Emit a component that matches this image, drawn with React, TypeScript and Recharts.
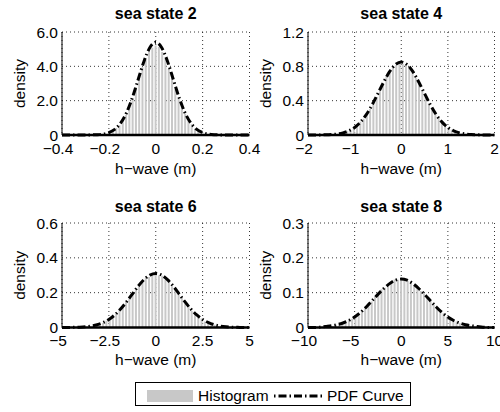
import React from 'react';
import { ComposedChart, Bar, Line, XAxis, YAxis, CartesianGrid } from 'recharts';

const FONT = '"Liberation Sans", Arial, Helvetica, sans-serif';
const FS = 15.5;
const HIST_FILL = '#c8c8c8';

// sea state 2
const ss2HistStart = -0.196;
const ss2HistStep = 0.014;
const ss2Hist = [0.12, 0.22, 0.41, 0.57, 0.9, 1.18, 1.7, 2.12, 2.78, 3.27, 3.95, 4.38, 4.9, 5.08, 5.22,
  5.13, 4.83, 4.45, 3.84, 3.35, 2.66, 2.19, 1.61, 1.25, 0.84, 0.62, 0.37, 0.27, 0.13];
const ss2Pdf = [0, 0, 0, 0, 0.001, 0.005, 0.018, 0.054, 0.14, 0.33, 0.692, 1.29, 2.17, 3.23, 4.3, 5.1, 5.4,
  5.1, 4.3, 3.23, 2.17, 1.29, 0.692, 0.33, 0.14, 0.054, 0.018, 0.005, 0.001, 0, 0, 0, 0];
const ss2XDomain = [-0.4, 0.4];
const ss2XTicks = [-0.4, -0.2, 0, 0.2, 0.4];
const ss2XLabels = ['−0.4', '−0.2', '0', '0.2', '0.4'];
const ss2YTicks = [0, 2, 4, 6];
const ss2YLabels = ['0', '2.0', '4.0', '6.0'];

// sea state 4
const ss4HistStart = -1.225;
const ss4HistStep = 0.07;
const ss4Hist = [0.022, 0.045, 0.052, 0.086, 0.107, 0.153, 0.188, 0.252, 0.303, 0.384, 0.444, 0.533, 0.594,
  0.678, 0.726, 0.792, 0.812, 0.845, 0.831, 0.826, 0.776, 0.741, 0.664, 0.609, 0.519, 0.457, 0.37, 0.315,
  0.241, 0.199, 0.143, 0.115, 0.078, 0.061, 0.038, 0.03, 0.017];
const ss4Pdf = [0, 0, 0.001, 0.002, 0.005, 0.012, 0.025, 0.048, 0.088, 0.15, 0.238, 0.351, 0.483, 0.618, 0.738,
  0.82, 0.85, 0.82, 0.738, 0.618, 0.483, 0.351, 0.238, 0.15, 0.088, 0.048, 0.025, 0.012, 0.005, 0.002, 0.001, 0, 0];
const ss4XDomain = [-2, 2];
const ss4XTicks = [-2, -1, 0, 1, 2];
const ss4XLabels = ['−2', '−1', '0', '1', '2'];
const ss4YTicks = [0, 0.4, 0.8, 1.2];
const ss4YLabels = ['0', '0.4', '0.8', '1.2'];

// sea state 6
const ss6HistStart = -3.5;
const ss6HistStep = 0.175;
const ss6Hist = [0.006, 0.011, 0.014, 0.022, 0.026, 0.039, 0.047, 0.066, 0.077, 0.101, 0.117, 0.146, 0.165,
  0.197, 0.214, 0.245, 0.259, 0.284, 0.29, 0.305, 0.301, 0.298, 0.297, 0.276, 0.267, 0.237, 0.221, 0.189,
  0.171, 0.139, 0.123, 0.095, 0.081, 0.06, 0.051, 0.035, 0.029, 0.019, 0.016, 0.009, 0.008];
const ss6Pdf = [0, 0, 0.001, 0.002, 0.004, 0.008, 0.016, 0.028, 0.046, 0.072, 0.106, 0.147, 0.192, 0.237, 0.275,
  0.301, 0.31, 0.301, 0.275, 0.237, 0.192, 0.147, 0.106, 0.072, 0.046, 0.028, 0.016, 0.008, 0.004, 0.002, 0.001, 0, 0];
const ss6XDomain = [-5, 5];
const ss6XTicks = [-5, -2.5, 0, 2.5, 5];
const ss6XLabels = ['−5', '−2.5', '0', '2.5', '5'];
const ss6YTicks = [0, 0.2, 0.4, 0.6];
const ss6YLabels = ['0', '0.2', '0.4', '0.6'];

// sea state 8
const ss8HistStart = -7.35;
const ss8HistStep = 0.35;
const ss8Hist = [0.004, 0.008, 0.009, 0.014, 0.015, 0.022, 0.025, 0.035, 0.038, 0.05, 0.055, 0.069, 0.075,
  0.09, 0.095, 0.11, 0.114, 0.127, 0.129, 0.138, 0.137, 0.143, 0.141, 0.134, 0.133, 0.121, 0.118, 0.105,
  0.099, 0.085, 0.079, 0.065, 0.059, 0.046, 0.041, 0.031, 0.027, 0.02, 0.017, 0.012, 0.011, 0.006, 0.005];
const ss8Pdf = [0, 0, 0.001, 0.003, 0.005, 0.008, 0.013, 0.02, 0.03, 0.043, 0.059, 0.077, 0.095, 0.112, 0.126,
  0.136, 0.139, 0.136, 0.126, 0.112, 0.095, 0.077, 0.059, 0.043, 0.03, 0.02, 0.013, 0.008, 0.005, 0.003, 0.001, 0, 0];
const ss8XDomain = [-10, 10];
const ss8XTicks = [-10, -5, 0, 5, 10];
const ss8XLabels = ['−10', '−5', '0', '5', '10'];
const ss8YTicks = [0, 0.1, 0.2, 0.3];
const ss8YLabels = ['0', '0.1', '0.2', '0.3'];

const histRows = (start: number, step: number, values: number[]) =>
  values.map((h, i) => ({ x: start + i * step, h }));

const pdfRows = (domain: number[], values: number[]) => {
  const d = (domain[1] - domain[0]) / (values.length - 1);
  return values.map((p, i) => ({ x: domain[0] + i * d, p }));
};

const tickStyle = { fill: '#000', fontSize: FS, fontFamily: FONT };

interface PanelProps {
  left: number;
  top: number;
  width: number;
  axisW: number;
  plotW: number;
  plotH: number;
  hist: { x: number; h: number }[];
  pdf: { x: number; p: number }[];
  xDomain: number[];
  xTicks: number[];
  xLabels: string[];
  yTicks: number[];
  yLabels: string[];
}

const Panel: React.FC<PanelProps> = ({ left, top, width, axisW, plotW, plotH, hist, pdf, xDomain, xTicks, xLabels, yTicks, yLabels }) => {
  // matlab-ish: negative labels sit a bit left of their tick
  const renderXTick = (props: any) => {
    const v = props.payload.value;
    return (
      <text x={props.x + (v < 0 ? -4 : 0)} y={props.y} dy="0.71em" textAnchor="middle" fill="#000" fontSize={FS} fontFamily={FONT}>
        {xLabels[xTicks.indexOf(v)] ?? ''}
      </text>
    );
  };

  return (
    <div style={{ position: 'absolute', left, top }}>
      <ComposedChart
        width={width}
        height={32 + plotH + 30}
        data={hist}
        margin={{ top: 32, right: width - axisW - plotW, bottom: 0, left: 0 }}
        barCategoryGap="15%"
      >
        <CartesianGrid stroke="#000" strokeDasharray="1 3" strokeWidth={0.8} />
        <XAxis
          dataKey="x"
          type="number"
          domain={xDomain}
          ticks={xTicks}
          interval={0}
          allowDataOverflow
          height={30}
          tick={renderXTick}
          tickLine={false}
          tickSize={6}
          tickMargin={1.5}
          axisLine={{ stroke: '#000', strokeWidth: 2.5 }}
        />
        <XAxis xAxisId="pdf" dataKey="x" type="number" domain={xDomain} allowDataOverflow hide />
        <YAxis
          type="number"
          domain={[yTicks[0], yTicks[yTicks.length - 1]]}
          ticks={yTicks}
          interval={0}
          width={axisW}
          tick={tickStyle}
          tickLine={false}
          tickSize={4}
          tickMargin={0}
          axisLine={{ stroke: '#000' }}
          tickFormatter={(v: number) => yLabels[yTicks.indexOf(v)] ?? ''}
        />
        <Bar dataKey="h" fill={HIST_FILL} isAnimationActive={false} />
        <Line
          data={pdf}
          xAxisId="pdf"
          dataKey="p"
          type="monotone"
          stroke="#000"
          strokeWidth={3}
          strokeDasharray="8 3 1.5 3"
          dot={false}
          isAnimationActive={false}
        />
      </ComposedChart>
    </div>
  );
};

const titles = [
  { text: 'sea state 2', x: 155.75, y: 19.3 },
  { text: 'sea state 4', x: 401.25, y: 19.3 },
  { text: 'sea state 6', x: 155.75, y: 211.5 },
  { text: 'sea state 8', x: 401.25, y: 211.5 },
];
const xLabelPos = [
  { x: 155.75, y: 174 },
  { x: 401.25, y: 174 },
  { x: 155.75, y: 364.6 },
  { x: 401.25, y: 364.6 },
];
const yLabelPos = [
  { x: 24.6, y: 83.5 },
  { x: 271, y: 83.5 },
  { x: 24.6, y: 275.3 },
  { x: 271, y: 275.3 },
];

export default function App() {
  return (
    <div style={{ position: 'absolute', left: 0, top: 0, width: 500, height: 412, overflow: 'hidden', background: '#fff' }}>
      <Panel left={0} top={0} width={262} axisW={62} plotW={187.5} plotH={103}
        hist={histRows(ss2HistStart, ss2HistStep, ss2Hist)} pdf={pdfRows(ss2XDomain, ss2Pdf)}
        xDomain={ss2XDomain} xTicks={ss2XTicks} xLabels={ss2XLabels} yTicks={ss2YTicks} yLabels={ss2YLabels} />
      <Panel left={250} top={0} width={250} axisW={58} plotW={186.5} plotH={103}
        hist={histRows(ss4HistStart, ss4HistStep, ss4Hist)} pdf={pdfRows(ss4XDomain, ss4Pdf)}
        xDomain={ss4XDomain} xTicks={ss4XTicks} xLabels={ss4XLabels} yTicks={ss4YTicks} yLabels={ss4YLabels} />
      <Panel left={0} top={191} width={262} axisW={62} plotW={187.5} plotH={104.5}
        hist={histRows(ss6HistStart, ss6HistStep, ss6Hist)} pdf={pdfRows(ss6XDomain, ss6Pdf)}
        xDomain={ss6XDomain} xTicks={ss6XTicks} xLabels={ss6XLabels} yTicks={ss6YTicks} yLabels={ss6YLabels} />
      <Panel left={250} top={191} width={250} axisW={58} plotW={186.5} plotH={104.5}
        hist={histRows(ss8HistStart, ss8HistStep, ss8Hist)} pdf={pdfRows(ss8XDomain, ss8Pdf)}
        xDomain={ss8XDomain} xTicks={ss8XTicks} xLabels={ss8XLabels} yTicks={ss8YTicks} yLabels={ss8YLabels} />

      <svg width={500} height={412} style={{ position: 'absolute', left: 0, top: 0, pointerEvents: 'none' }} fontFamily={FONT}>
        {titles.map((t) => (
          <text key={t.text} x={t.x} y={t.y} textAnchor="middle" fontSize={16} fontWeight="bold" fill="#000">{t.text}</text>
        ))}
        {xLabelPos.map((p, i) => (
          <text key={`xl${i}`} x={p.x} y={p.y} textAnchor="middle" fontSize={FS} fill="#000">h−wave (m)</text>
        ))}
        {yLabelPos.map((p, i) => (
          <text key={`yl${i}`} x={p.x} y={p.y} textAnchor="middle" fontSize={FS} fill="#000" transform={`rotate(-90 ${p.x} ${p.y})`}>density</text>
        ))}
        <rect x={135.5} y={382.5} width={275} height={23} fill="#fff" stroke="#000" />
        <rect x={147} y={390} width={46} height={12} fill={HIST_FILL} />
        <text x={198} y={401} fontSize={FS} fill="#000">Histogram</text>
        <line x1={274} y1={396} x2={322} y2={396} stroke="#000" strokeWidth={3} strokeDasharray="1.5 3 8 3" />
        <text x={327} y={401} fontSize={FS} fill="#000">PDF Curve</text>
      </svg>
    </div>
  );
}
